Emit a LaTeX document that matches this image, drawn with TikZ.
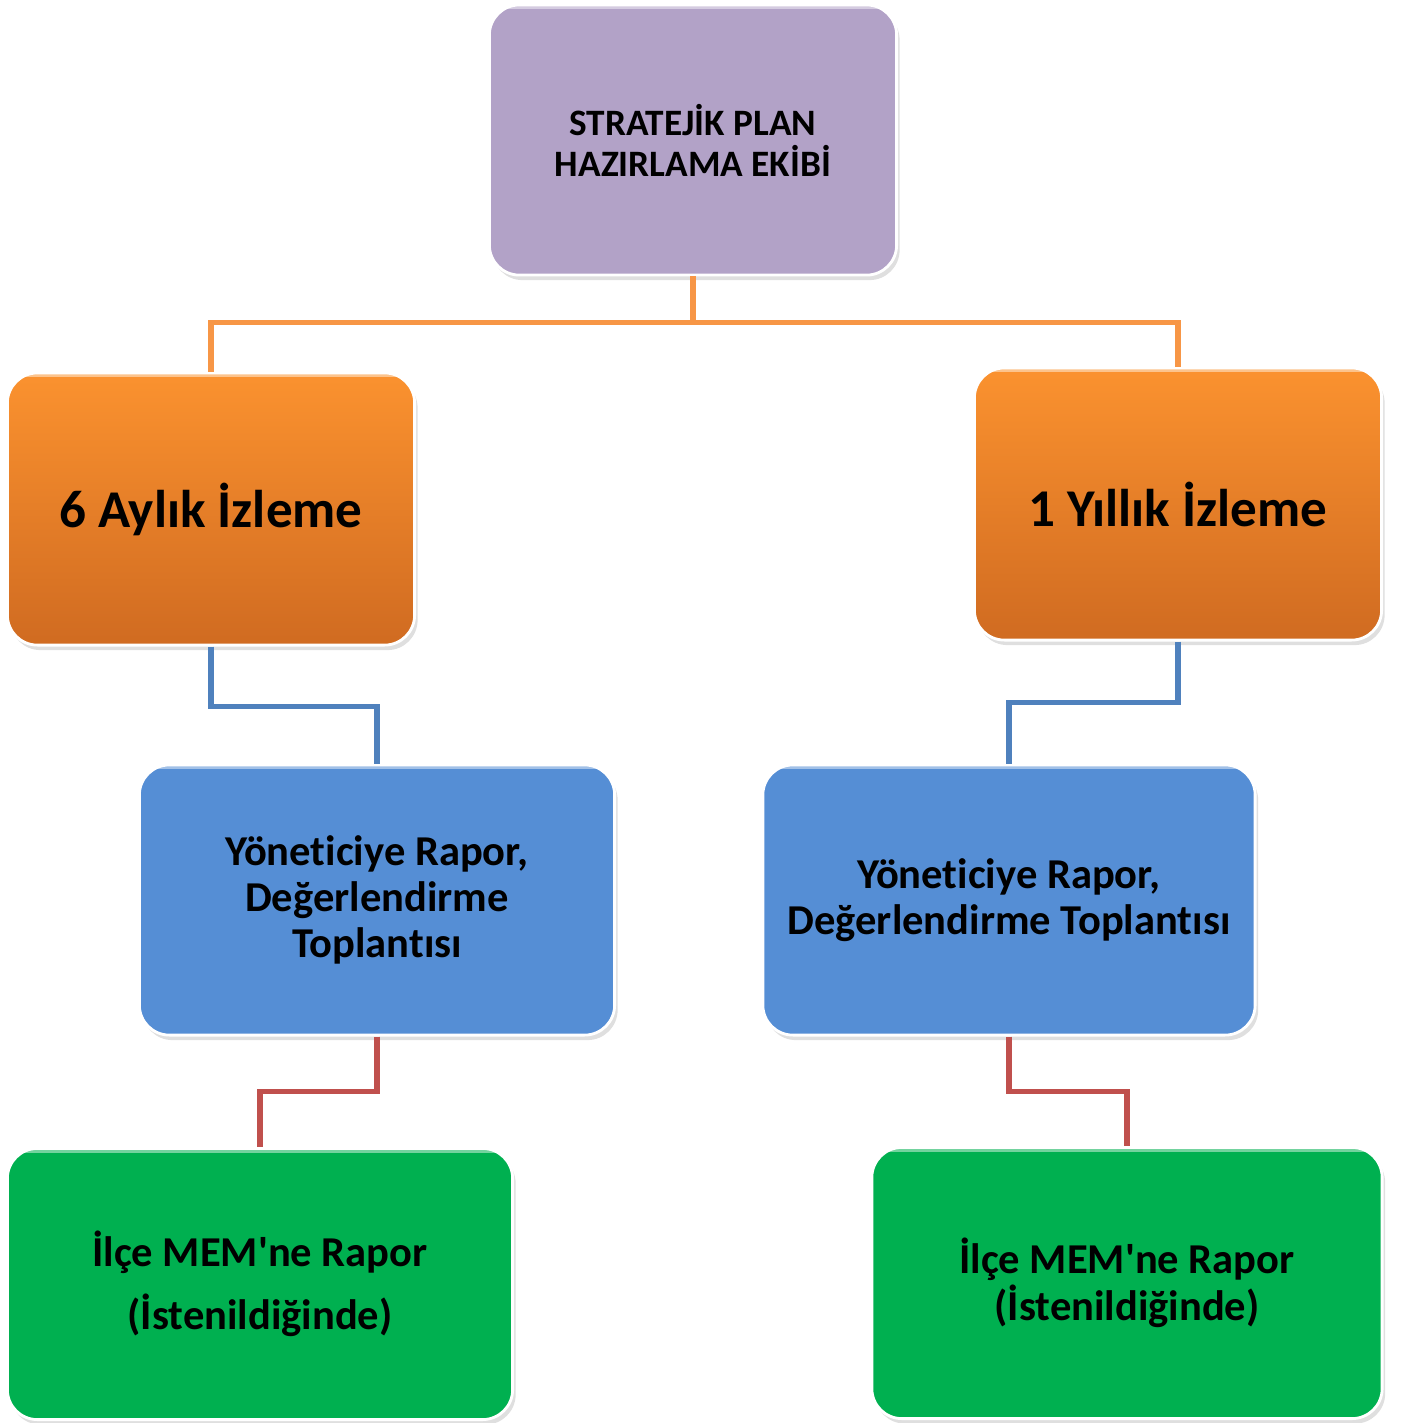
\documentclass[tikz,border=0pt]{standalone}
\usepackage{fontspec}
\setmainfont{Carlito}[Ligatures={TeX,NoCommon}]
\usepackage{tikz}
\usetikzlibrary{shadows}
\usetikzlibrary{calc}

\definecolor{planlila}{HTML}{B2A2C7}
\definecolor{izlemetop}{HTML}{FB922F}
\definecolor{izlemebot}{HTML}{D06B21}
\definecolor{raporblue}{HTML}{558ED5}
\definecolor{memgreen}{HTML}{00B050}
\definecolor{linorange}{HTML}{F79646}
\definecolor{linblue}{HTML}{4F81BD}
\definecolor{linred}{HTML}{C0504D}

\begin{document}
\begin{tikzpicture}[x=0.01cm,y=-0.01cm,
  kutu/.style={rounded corners=0.3cm, draw=white, line width=0.8pt, align=center,
    text=black, inner sep=0pt,
    drop shadow={opacity=0.25, shadow xshift=0.03cm, shadow yshift=-0.05cm},
    path picture={\draw[white, opacity=0.45, line width=2.5pt, line cap=round]
      ($(path picture bounding box.north west)+(0.35,-0.07)$) --
      ($(path picture bounding box.north east)+(-0.35,-0.07)$);}},
  planbox/.style={kutu, fill=planlila, minimum width=4.07cm, minimum height=2.7cm,
    font=\bfseries\fontsize{10.6}{11.7}\selectfont},
  izlemebox/.style={kutu, top color=izlemetop, bottom color=izlemebot,
    minimum width=4.07cm, minimum height=2.72cm,
    font=\bfseries\fontsize{15.1}{16}\selectfont},
  raporbox/.style={kutu, fill=raporblue, minimum height=2.7cm,
    font=\bfseries\fontsize{12.1}{13.1}\selectfont},
  membox/.style={kutu, fill=memgreen, minimum height=2.71cm},
  baglanti/.style={line width=1.5pt}]
\useasboundingbox (0,0) rectangle (1405,1423);

% kutular
\node[planbox] (plan) at (693,140) {STRATEJİK PLAN\\HAZIRLAMA EKİBİ};
\node[izlemebox] (alti) at (211,509) {6 Aylık İzleme};
\node[izlemebox] (yil) at (1178,504) {1 Yıllık İzleme};
\node[raporbox, minimum width=4.75cm] (rapa) at (377,900) {Yöneticiye Rapor,\\Değerlendirme\\Toplantısı};
\node[raporbox, minimum width=4.92cm] (rapb) at (1009,900) {Yöneticiye Rapor,\\Değerlendirme Toplantısı};
\node[membox, minimum width=5.05cm, font=\bfseries\fontsize{12.1}{17.9}\selectfont] (mema) at (260,1284) {İlçe MEM\textquotesingle ne Rapor\\(İstenildiğinde)};
\node[membox, minimum width=5.1cm, font=\bfseries\fontsize{12.1}{13.4}\selectfont] (memb) at (1127,1283) {İlçe MEM\textquotesingle ne Rapor\\(İstenildiğinde)};

% baglantilar
\draw[baglanti, linorange] (plan.south) -- ++(0,46) -| (alti.north);
\draw[baglanti, linorange] (plan.south) -- ++(0,46) -| (yil.north);
\draw[baglanti, linblue] (alti.south) -- ++(0,60) -| (rapa.north);
\draw[baglanti, linblue] (yil.south) -- ++(0,61) -| (rapb.north);
\draw[baglanti, linred] (rapa.south) -- ++(0,55) -| (mema.north);
\draw[baglanti, linred] (rapb.south) -- ++(0,55) -| (memb.north);
\end{tikzpicture}
\end{document}
